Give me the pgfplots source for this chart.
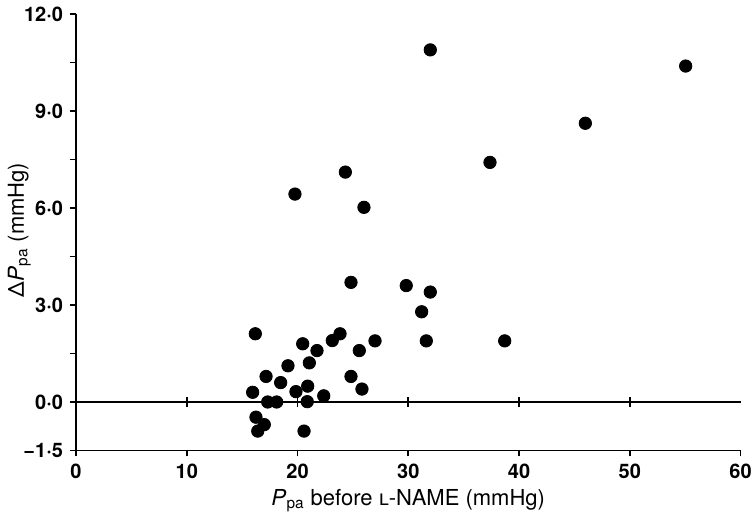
\documentclass[border=0pt]{standalone}
\usepackage{fontspec}
\setmainfont{TeX Gyre Heros}
\usepackage{pgfplots}
\pgfplotsset{compat=1.18}

\begin{document}
\begin{tikzpicture}[font=\fontsize{10}{12}\selectfont]
\begin{axis}[
  scale only axis,
  width=332.25pt, height=218.25pt,
  xmin=0, xmax=60, ymin=-1.5, ymax=12,
  axis x line*=bottom, axis y line*=left,
  axis line style={line width=0.9pt, -},
  tick style={line width=0.9pt, black},
  tick align=outside,
  major tick length=3pt,
  xtick={0,10,20,30,40,50,60},
  xticklabels={0,10,20,30,40,50,60},
  ytick={-1.5,0,1.5,3,4.5,6,7.5,9,10.5,12},
  yticklabels={−1·5,0·0,,3·0,,6·0,,9·0,,12·0},
  ticklabel style={font=\fontsize{10}{12}\selectfont\bfseries},
  xlabel={\textit{P}\textsubscript{pa} before \textsc{l}-NAME (mmHg)},
  ylabel={Δ\textit{P}\textsubscript{pa} (mmHg)},
  label style={font=\fontsize{11}{13}\selectfont},
  xlabel style={at={(axis description cs:0.5,-0.1249)}, anchor=base},
  ylabel style={at={(axis description cs:-0.0783,0.505)}, anchor=base},
  clip=false,
]
% zero reference line with crossing ticks
\addplot[black, line width=0.9pt, mark=none] coordinates {(0,0) (60,0)};
\addplot[only marks, mark=|, mark size=2.3pt, mark options={line width=0.9pt, black}]
  coordinates {(10,0) (20,0) (30,0) (40,0) (50,0)};

\addplot[only marks, mark=*, mark size=3.1pt, mark options={fill=black, draw=black}]
  table {
x      y
31.99  10.89
55.05  10.39
45.99  8.62
37.38  7.41
24.32  7.11
19.77  6.43
26.00  6.02
24.83  3.70
29.82  3.60
31.99  3.40
31.21  2.79
31.63  1.89
38.71  1.89
16.19  2.11
20.47  1.80
23.14  1.90
23.84  2.11
21.76  1.59
25.58  1.59
27.00  1.89
21.07  1.21
19.14  1.12
17.16  0.79
18.48  0.60
24.83  0.79
15.95  0.30
19.86  0.32
20.92  0.49
20.88  0.01
22.37  0.19
25.82  0.40
17.31  0.00
18.12  0.00
16.25  -0.47
17.00  -0.70
16.41  -0.90
20.59  -0.90
};
\end{axis}
\pgfresetboundingbox
\path ([shift={(-38pt,-32.75pt)}]current axis.south west) rectangle ([shift={(6.25pt,7pt)}]current axis.north east);
\end{tikzpicture}
\end{document}
